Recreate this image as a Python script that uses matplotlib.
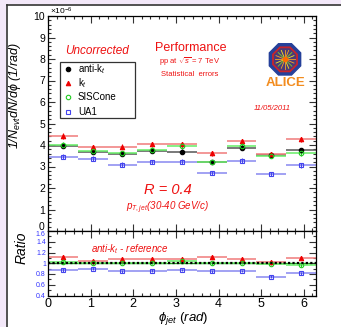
import numpy as np
import matplotlib
matplotlib.use("Agg")
import matplotlib.pyplot as plt
from matplotlib.patches import Rectangle, RegularPolygon
from matplotlib.lines import Line2D
from matplotlib.ticker import AutoMinorLocator, MultipleLocator

plt.rcParams['font.family'] = ['Liberation Sans', 'DejaVu Sans']
plt.rcParams['mathtext.fontset'] = 'custom'
plt.rcParams['mathtext.rm'] = 'Liberation Sans'
plt.rcParams['mathtext.it'] = 'Liberation Sans:italic'
plt.rcParams['mathtext.bf'] = 'Liberation Sans:bold'

# 9 bins in phi from 0 to 2pi, values in units of 1e-6
n_bins = 9
antikt = [3.97, 3.69, 3.58, 3.72, 3.69, 3.21, 3.86, 3.52, 3.77]
kt = [4.42, 3.90, 3.92, 4.05, 4.03, 3.61, 4.17, 3.58, 4.26]
siscone = [4.01, 3.72, 3.62, 3.78, 3.95, 3.21, 3.95, 3.50, 3.61]
ua1 = [3.46, 3.36, 3.08, 3.21, 3.22, 2.71, 3.27, 2.65, 3.06]
main_err = [0.12, 0.11, 0.11, 0.11, 0.11, 0.10, 0.11, 0.10, 0.11]

# ratio to anti-kt
ratio_kt = [1.125, 1.04, 1.08, 1.075, 1.075, 1.11, 1.07, 1.02, 1.10]
ratio_sis = [1.02, 1.00, 1.01, 1.01, 1.05, 1.00, 1.01, 0.99, 0.96]
ratio_ua1 = [0.875, 0.90, 0.85, 0.865, 0.875, 0.85, 0.855, 0.75, 0.81]
ratio_err = [0.03, 0.025, 0.025, 0.025, 0.025, 0.03, 0.025, 0.03, 0.03]

legend_labels = ["anti-k$_t$", "k$_t$", "SISCone", "UA1"]
main_yticks = [1, 2, 3, 4, 5, 6, 7, 8, 9, 10]
ratio_yticks = [0.4, 0.6, 0.8, 1.0, 1.2, 1.4]
ratio_ylabels = ["0.4", "0.6", "0.8", "1", "1.2", "1.4"]

W, H = 341, 327
fig = plt.figure(figsize=(W / 100, H / 100), dpi=100, facecolor='#f3e8f9')


def fx(px):
    return px / W


def fy(py):
    return 1 - py / H


# white canvas with dark border on top/left
fig.patches.append(Rectangle((fx(6), 0), 1 - fx(6), fy(4), transform=fig.transFigure,
                             facecolor='white', edgecolor='none', zorder=-10))
fig.lines.append(Line2D([fx(6.5), fx(6.5)], [0, fy(4.5)], transform=fig.transFigure, color='#333333', lw=1.2))
fig.lines.append(Line2D([fx(6.5), 1], [fy(4.5), fy(4.5)], transform=fig.transFigure, color='#333333', lw=1.2))

edges = np.linspace(0, 2 * np.pi, n_bins + 1)
centers = 0.5 * (edges[:-1] + edges[1:])

ax = fig.add_axes([fx(48), fy(231), fx(316) - fx(48), fy(16) - fy(231)])
rax = fig.add_axes([fx(48), fy(295.5), fx(316) - fx(48), fy(231) - fy(295.5)], sharex=ax)

styles = [
    # values, marker, marker color, line color, facecolor
    (antikt, 'o', 'black', '#555555', 'black'),
    (kt, '^', '#ee0000', '#f07a7a', '#ee0000'),
    (siscone, 'o', '#22cc22', '#66ee66', 'none'),
    (ua1, 's', '#4444ee', '#8888f0', 'none'),
]

handles = []
for vals, mk, mc, lc, fc in styles:
    ax.hlines(vals, edges[:-1], edges[1:], colors=lc, lw=1.1, zorder=2)
    ax.errorbar(centers, vals, yerr=main_err, fmt=mk, ms=3.2, mfc=fc, mec=mc, mew=0.8,
                ecolor=mc, elinewidth=0.8, capsize=0, zorder=3)
    handles.append((mk, fc, mc))

ratio_styles = [
    (ratio_kt, '^', '#ee0000', '#f07a7a', '#ee0000'),
    (ratio_sis, 'o', '#22cc22', '#66ee66', 'none'),
    (ratio_ua1, 's', '#4444ee', '#8888f0', 'none'),
]
for vals, mk, mc, lc, fc in ratio_styles:
    rax.hlines(vals, edges[:-1], edges[1:], colors=lc, lw=1.1, zorder=2)
    rax.errorbar(centers, vals, yerr=ratio_err, fmt=mk, ms=3.2, mfc=fc, mec=mc, mew=0.8,
                 ecolor=mc, elinewidth=0.8, capsize=0, zorder=3)
rax.axhline(1.0, color='#22aa22', lw=1.0, zorder=1)
rax.axhline(1.0, color='black', lw=1.6, ls=(0, (1, 1)), zorder=4)

# axes ranges and ticks
ax.set_xlim(0, 2 * np.pi)
ax.set_ylim(0, 10)
rax.set_ylim(0.4, 1.6)

for a in (ax, rax):
    a.xaxis.set_major_locator(MultipleLocator(1))
    a.xaxis.set_minor_locator(AutoMinorLocator(5))
    a.tick_params(which='both', direction='in', top=True, right=True, width=0.8, color='#333333')
    a.tick_params(which='major', length=5)
    a.tick_params(which='minor', length=2.5)
    for s in a.spines.values():
        s.set_linewidth(0.9)

ax.set_yticks(main_yticks)
ax.yaxis.set_minor_locator(AutoMinorLocator(5))
ax.tick_params(axis='y', labelsize=7.5, pad=2)
ax.tick_params(axis='x', labelbottom=False)
# the 0 and 1.6 labels share the panel boundary; place them by hand
fig.text(fx(44), fy(227.5), "0", fontsize=7.5, ha='right', va='center')
fig.text(fx(45.5), fy(235), "1.6", fontsize=5, color='#3333ff', ha='right', va='center')

rax.set_yticks(ratio_yticks + [1.6])
rax.set_yticklabels(ratio_ylabels + [""])
rax.yaxis.set_minor_locator(AutoMinorLocator(2))
rax.tick_params(axis='y', labelsize=5, labelcolor='#3333ff', pad=1.5)
rax.tick_params(axis='x', labelsize=9, pad=2)

# axis titles
fig.text(fx(15), fy(96), "1/N$_{evt}$dN/d$\\phi$ (1/rad)", rotation=90, ha='center', va='center',
         fontsize=9, style='italic')
fig.text(fx(22), fy(248), "Ratio", rotation=90, ha='center', va='center', fontsize=10, style='italic')
fig.text(fx(183), fy(318), "$\\phi_{jet}$ $\\it{(rad)}$", ha='center', va='center', fontsize=9.5)
fig.text(fx(50), fy(11), "$\\times$10$^{-6}$", ha='left', va='center', fontsize=6)

red = '#ee1111'
fig.text(fx(97), fy(51), "Uncorrected", color=red, fontsize=8.5, style='italic', ha='center', va='center')
fig.text(fx(191), fy(48), "Performance", color=red, fontsize=9, ha='center', va='center')
fig.text(fx(190), fy(62), "pp at $\\sqrt{s}$ = 7 TeV", color=red, fontsize=5.5, ha='center', va='center')
fig.text(fx(190), fy(75), "Statistical  errors", color=red, fontsize=5.5, ha='center', va='center')
fig.text(fx(272), fy(108), "11/05/2011", color=red, fontsize=5.5, style='italic', ha='center', va='center')
fig.text(fx(168), fy(190), "R = 0.4", color=red, fontsize=10.5, style='italic', ha='center', va='center')
fig.text(fx(168), fy(208), "p$_{T,jet}$(30-40 GeV/c)", color=red, fontsize=7, style='italic',
         ha='center', va='center')
fig.text(fx(130), fy(249), "anti-k$_t$ - reference", color=red, fontsize=7, style='italic',
         ha='center', va='center')

# legend box drawn by hand to match the frame size
lx0, ly0, lx1, ly1 = 60, 62, 135, 118
fig.patches.append(Rectangle((fx(lx0), fy(ly1)), fx(lx1) - fx(lx0), fy(ly0) - fy(ly1),
                             transform=fig.transFigure, facecolor='white', edgecolor='#333333',
                             lw=0.9, zorder=5))
for i, ((mk, fc, mc), lab) in enumerate(zip(handles, legend_labels)):
    yy = 69 + i * 14.2
    fig.lines.append(Line2D([fx(68)], [fy(yy)], transform=fig.transFigure, ls='none',
                            marker=mk, ms=3.2, mfc=fc, mec=mc, mew=0.8, zorder=6))
    fig.text(fx(78), fy(yy), lab, fontsize=7, ha='left', va='center', zorder=6)

# ALICE logo
lax = fig.add_axes([fx(264), fy(90), fx(306) - fx(264), fy(40) - fy(90)])
lax.set_xlim(-1.3, 1.3)
lax.set_ylim(-1.9, 1.2)
lax.set_aspect('equal')
lax.axis('off')
lax.add_patch(RegularPolygon((0, 0), 8, radius=1.05, orientation=np.pi / 8, color='#25409a'))
lax.add_patch(RegularPolygon((0, 0), 8, radius=0.82, orientation=np.pi / 8, color='#c8242b'))
lax.add_patch(RegularPolygon((0, 0), 8, radius=0.70, orientation=np.pi / 8, color='#4a3a78'))
for ang, col in zip(np.linspace(0, 2 * np.pi, 16, endpoint=False),
                    ['#f5a623', '#f8e71c', '#7ed321', '#f5a623'] * 4):
    lax.plot([0, 0.6 * np.cos(ang)], [0, 0.6 * np.sin(ang)], color=col, lw=0.6)
lax.plot([0], [0], 'o', color='#ff6a00', ms=3)
lax.text(0.05, -1.45, "ALICE", color='#f28c1e', fontsize=9.5, fontweight='bold', ha='center', va='center')

fig.savefig("out.png", dpi=100, facecolor=fig.get_facecolor())
